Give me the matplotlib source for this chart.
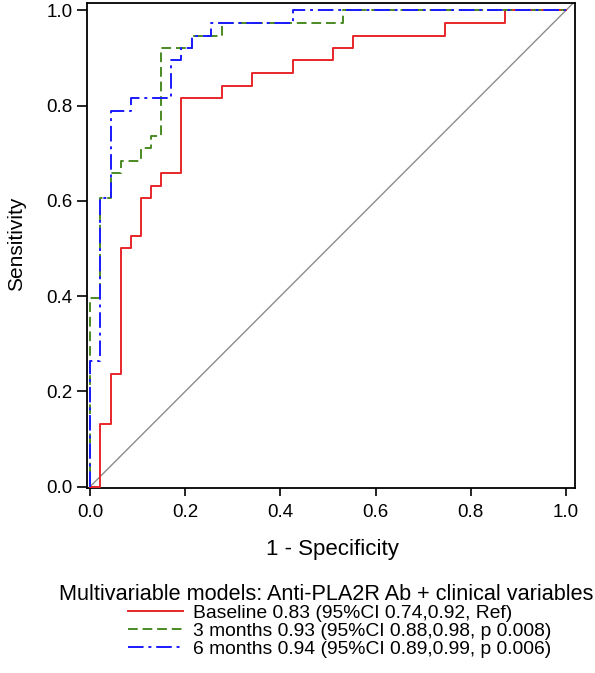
import matplotlib
matplotlib.use("Agg")
import matplotlib.pyplot as plt

plt.rcParams['font.family'] = ['Liberation Sans', 'DejaVu Sans']

# ROC step coordinates (1 - specificity, sensitivity)
base_fpr = [0.0, 0.021, 0.021, 0.043, 0.043, 0.064, 0.064, 0.085, 0.085, 0.106, 0.106,
            0.128, 0.128, 0.149, 0.149, 0.191, 0.191, 0.277, 0.277, 0.340, 0.340,
            0.426, 0.426, 0.511, 0.511, 0.553, 0.553, 0.745, 0.745, 0.872, 0.872, 1.0]
base_tpr = [0.0, 0.0, 0.132, 0.132, 0.237, 0.237, 0.500, 0.500, 0.526, 0.526, 0.605,
            0.605, 0.632, 0.632, 0.658, 0.658, 0.816, 0.816, 0.842, 0.842, 0.868,
            0.868, 0.895, 0.895, 0.921, 0.921, 0.947, 0.947, 0.974, 0.974, 1.0, 1.0]

m3_fpr = [0.0, 0.0, 0.021, 0.021, 0.043, 0.043, 0.064, 0.064, 0.106, 0.106, 0.128, 0.128,
          0.149, 0.149, 0.213, 0.213, 0.277, 0.277, 0.532, 0.532, 1.0]
m3_tpr = [0.0, 0.395, 0.395, 0.605, 0.605, 0.658, 0.658, 0.684, 0.684, 0.711, 0.711, 0.737,
          0.737, 0.921, 0.921, 0.947, 0.947, 0.974, 0.974, 1.0, 1.0]

m6_fpr = [0.0, 0.0, 0.021, 0.021, 0.043, 0.043, 0.085, 0.085, 0.170, 0.170, 0.191, 0.191,
          0.213, 0.213, 0.255, 0.255, 0.426, 0.426, 1.0]
m6_tpr = [0.0, 0.263, 0.263, 0.605, 0.605, 0.789, 0.789, 0.816, 0.816, 0.895, 0.895, 0.921,
          0.921, 0.947, 0.947, 0.974, 0.974, 1.0, 1.0]

labels = ["Baseline 0.83 (95%CI 0.74,0.92, Ref)",
          "3 months 0.93 (95%CI 0.88,0.98, p 0.008)",
          "6 months 0.94 (95%CI 0.89,0.99, p 0.006)"]
legend_title = "Multivariable models: Anti-PLA2R Ab + clinical variables"
ticks = [0.0, 0.2, 0.4, 0.6, 0.8, 1.0]

W, H = 595, 673
fig = plt.figure(figsize=(W / 100, H / 100), dpi=100)
ax = fig.add_axes([87.3 / W, 1 - 488 / H, (575 - 87.3) / W, (488 - 2.7) / H])

ax.plot([0, 1.02], [0, 1.02], color='#8c8c8c', lw=1.0, zorder=1)
ax.plot(base_fpr, base_tpr, color='#e8262a', lw=1.4, ls='-', label=labels[0], zorder=3)
ax.plot(m3_fpr, m3_tpr, color='#4a8a22', lw=1.4, ls=(0, (5, 2.5)), label=labels[1], zorder=4)
ax.plot(m6_fpr, m6_tpr, color='#1a1aff', lw=1.4, ls=(0, (8, 2.5, 1.5, 2.5)), label=labels[2], zorder=5)

ax.set_xlim(-0.006, 1.019)
ax.set_ylim(-0.003, 1.016)
ax.set_xticks(ticks)
ax.set_yticks(ticks)
ax.set_xticklabels([f"{t:.1f}" for t in ticks])
ax.set_yticklabels([f"{t:.1f}" for t in ticks])
ax.tick_params(axis='both', direction='out', width=1.2, labelsize=13.5, colors='black')
ax.tick_params(axis='x', length=5.5, pad=6.0)
ax.tick_params(axis='y', length=7, pad=3.8)
for s in ax.spines.values():
    s.set_linewidth(1.3)
    s.set_color('black')

ax.set_xlabel("1 - Specificity", fontsize=16)
ax.xaxis.set_label_coords(0.503, -0.105)
ax.set_ylabel("Sensitivity", fontsize=15)
ax.yaxis.set_label_coords(-0.1265, 0.504)

fig.text(593 / W, 1 - 600 / H, legend_title, fontsize=15.6, ha='right', va='baseline')
leg = fig.legend(loc='upper left', bbox_to_anchor=(128 / W, 1 - 604.5 / H), frameon=False,
                 fontsize=13.9, handlelength=2.85, handletextpad=0.52, labelspacing=0.02,
                 borderpad=0, borderaxespad=0)

fig.savefig("out.png", dpi=100)
